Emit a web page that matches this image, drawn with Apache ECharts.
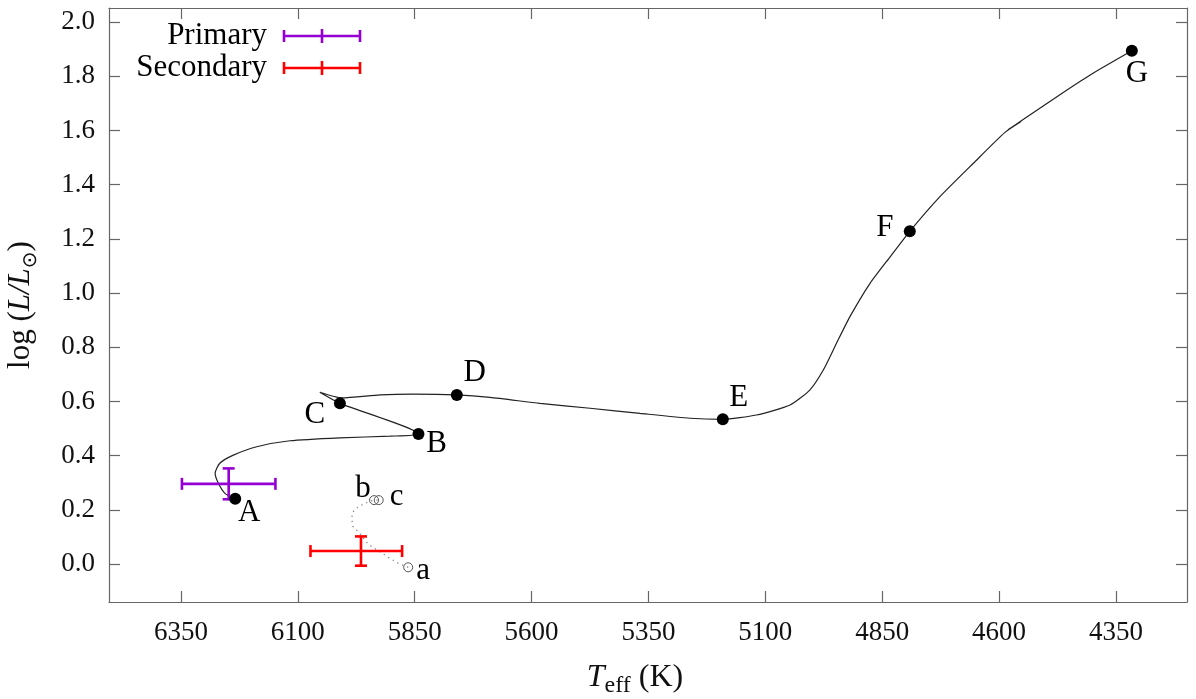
<!DOCTYPE html>
<html>
<head>
  <meta charset="utf-8">
  <title>HR diagram</title>
  <script src="https://cdn.jsdelivr.net/npm/echarts@6/dist/echarts.min.js"></script>
  <style>
    html, body { margin: 0; padding: 0; background: #fff; }
    #chart { width: 1196px; height: 699px; }
  </style>
</head>
<body>
<div id="chart"></div>
<script>
// solid track of the primary, A -> G
const trackT = [6234, 6256, 6270, 6277, 6267, 6238, 6188, 6117, 6010, 5903, 5842,
                6010, 6053, 6006, 5924, 5854, 5760, 5689, 5582, 5475, 5368, 5261, 5191,
                5119, 5047, 5005, 4976, 4948, 4919, 4876, 4833, 4791, 4727, 4655,
                4588, 4553, 4581, 4547, 4477, 4406, 4316];
const trackL = [0.241, 0.261, 0.298, 0.335, 0.372, 0.402, 0.433, 0.455, 0.466, 0.472, 0.480,
                0.593, 0.634, 0.613, 0.624, 0.627, 0.624, 0.615, 0.593, 0.575, 0.556, 0.538, 0.534,
                0.550, 0.587, 0.642, 0.716, 0.814, 0.913, 1.036, 1.134, 1.228, 1.355, 1.479,
                1.592, 1.633, 1.603, 1.642, 1.724, 1.804, 1.894];

// labelled points on the track
const starNames = ['A', 'B', 'C', 'D', 'E', 'F', 'G'];
const starT = [6234, 5842, 6010, 5760, 5191, 4791, 4316];
const starL = [0.241, 0.480, 0.593, 0.624, 0.534, 1.228, 1.894];

// dotted track of the secondary, a -> b/c
const secTrackT = [5864, 5885, 5903, 5917, 5942, 5954, 5967, 5982, 5985, 5982, 5971, 5960, 5946, 5937, 5927];
const secTrackL = [-0.012, 0.003, 0.021, 0.037, 0.064, 0.082, 0.113, 0.138, 0.169, 0.193, 0.211, 0.221, 0.232, 0.236, 0.236];
const secNames = ['a', 'b', 'c'];
const secT = [5864, 5937, 5927];
const secL = [-0.012, 0.236, 0.236];

// observed positions with error bars
const obsNames = ['Primary', 'Secondary'];
const obsT = [6248, 5965];
const obsL = [0.296, 0.048];
const obsTHot = [6348, 6073];
const obsTCool = [6148, 5877];
const obsLLo = [0.239, -0.006];
const obsLHi = [0.353, 0.102];

const xTicks = [6350, 6100, 5850, 5600, 5350, 5100, 4850, 4600, 4350];
const yTicks = [0.0, 0.2, 0.4, 0.6, 0.8, 1.0, 1.2, 1.4, 1.6, 1.8, 2.0];

// label offsets (px) for the letters
const starOffsets = [[14, 14], [18, 10], [-25, 11], [18, -22], [16, -21], [-25, -3], [5, 23]];
const secOffsets = [[15, 4], [-11, -11], [18, -3]];
const obsColors = ['#9400d3', '#ff0000'];

const SERIF = 'Liberation Serif';
const FRAME = '#666';

function zip(a, b) { return a.map((v, i) => [v, b[i]]); }

function labelled(names, xs, ys, offsets) {
  return names.map((n, i) => ({
    value: [xs[i], ys[i]],
    name: n,
    label: { offset: offsets[i] }
  }));
}

const xBase = {
  type: 'value', min: 4198, max: 6504, inverse: true,
  splitLine: { show: false },
  axisLine: { onZero: false, lineStyle: { color: FRAME, width: 1.2 } },
  axisTick: { inside: true, length: 11, customValues: xTicks, lineStyle: { color: FRAME, width: 1.2 } }
};
const yBase = {
  type: 'value', min: -0.14, max: 2.052,
  splitLine: { show: false },
  axisLine: { onZero: false, lineStyle: { color: FRAME, width: 1.2 } },
  axisTick: { inside: true, length: 11, customValues: yTicks, lineStyle: { color: FRAME, width: 1.2 } }
};

let myChart = echarts.init(document.getElementById('chart'));

let option = {
  animation: false,
  backgroundColor: '#fff',
  textStyle: { fontFamily: SERIF },
  grid: { left: 109, right: 9, top: 8, bottom: 97, containLabel: false, outerBoundsMode: 'none' },
  xAxis: [
    Object.assign({}, xBase, {
      position: 'bottom',
      axisLabel: {
        customValues: xTicks, margin: 17,
        fontFamily: SERIF, fontSize: 27, color: '#111',
        formatter: v => String(v)
      },
      name: '{t|T}{s|eff}{n| (K)}',
      nameLocation: 'middle', nameGap: 56,
      nameTextStyle: {
        padding: [0, 26, 0, 0],
        rich: {
          t: { fontFamily: SERIF, fontSize: 32, fontStyle: 'italic', color: '#111', lineHeight: 40, verticalAlign: 'middle' },
          s: { fontFamily: SERIF, fontSize: 24, color: '#111', lineHeight: 40, verticalAlign: 'bottom' },
          n: { fontFamily: SERIF, fontSize: 32, color: '#111', lineHeight: 40, verticalAlign: 'middle' }
        }
      }
    }),
    Object.assign({}, xBase, { position: 'top', axisLabel: { show: false } })
  ],
  yAxis: [
    Object.assign({}, yBase, {
      position: 'left',
      axisLabel: {
        customValues: yTicks, margin: 14,
        fontFamily: SERIF, fontSize: 27, color: '#111',
        formatter: v => v.toFixed(1)
      },
      name: '{n|log (}{i|L/L}{s|⊙}{n|)}',
      nameLocation: 'middle', nameGap: 68, nameRotate: 90,
      nameTextStyle: {
        rich: {
          i: { fontFamily: SERIF, fontSize: 31, fontStyle: 'italic', color: '#111', lineHeight: 40, verticalAlign: 'middle' },
          s: { fontFamily: 'DejaVu Sans', fontSize: 20, color: '#111', lineHeight: 40, verticalAlign: 'bottom' },
          n: { fontFamily: SERIF, fontSize: 31, color: '#111', lineHeight: 40, verticalAlign: 'middle' }
        }
      }
    }),
    Object.assign({}, yBase, { position: 'right', axisLabel: { show: false } })
  ],
  series: [
    {
      type: 'line',
      data: zip(trackT, trackL),
      showSymbol: false,
      smooth: 0.2,
      lineStyle: { color: '#222', width: 1.2 },
      z: 2
    },
    {
      type: 'line',
      data: zip(secTrackT, secTrackL),
      showSymbol: false,
      lineStyle: { color: '#888', width: 1.3, type: [1.3, 4] },
      z: 2
    },
    {
      type: 'custom',
      data: obsT.map((t, i) => [t, obsL[i], obsTHot[i], obsTCool[i], obsLLo[i], obsLHi[i], i]),
      renderItem: function (params, api) {
        const c = api.coord([api.value(0), api.value(1)]);
        const hot = api.coord([api.value(2), api.value(1)]);
        const cool = api.coord([api.value(3), api.value(1)]);
        const lo = api.coord([api.value(0), api.value(4)]);
        const hi = api.coord([api.value(0), api.value(5)]);
        const col = obsColors[api.value(6)];
        const cap = 6;
        const st = { stroke: col, lineWidth: 2.6 };
        return {
          type: 'group',
          children: [
            { type: 'line', shape: { x1: hot[0], y1: c[1], x2: cool[0], y2: c[1] }, style: st },
            { type: 'line', shape: { x1: hot[0], y1: c[1] - cap, x2: hot[0], y2: c[1] + cap }, style: st },
            { type: 'line', shape: { x1: cool[0], y1: c[1] - cap, x2: cool[0], y2: c[1] + cap }, style: st },
            { type: 'line', shape: { x1: c[0], y1: lo[1], x2: c[0], y2: hi[1] }, style: st },
            { type: 'line', shape: { x1: c[0] - cap, y1: lo[1], x2: c[0] + cap, y2: lo[1] }, style: st },
            { type: 'line', shape: { x1: c[0] - cap, y1: hi[1], x2: c[0] + cap, y2: hi[1] }, style: st }
          ]
        };
      },
      z: 3
    },
    {
      type: 'scatter',
      data: labelled(starNames, starT, starL, starOffsets),
      symbol: 'circle',
      symbolSize: 12,
      itemStyle: { color: '#000', opacity: 1 },
      label: {
        show: true, position: 'inside', formatter: '{b}',
        fontFamily: SERIF, fontSize: 31, color: '#000',
        align: 'center', verticalAlign: 'middle'
      },
      z: 4
    },
    {
      type: 'scatter',
      data: labelled(secNames, secT, secL, secOffsets),
      symbol: 'circle',
      symbolSize: 9,
      itemStyle: { color: 'rgba(255,255,255,0)', borderColor: '#555', borderWidth: 1, opacity: 1 },
      label: {
        show: true, position: 'inside', formatter: '{b}',
        fontFamily: SERIF, fontSize: 31, color: '#000',
        align: 'center', verticalAlign: 'middle'
      },
      z: 4
    }
  ],
  graphic: obsNames.map((n, i) => {
    const y = 36 + i * 32;
    const st = { stroke: obsColors[i], lineWidth: 2.6 };
    return {
      type: 'group',
      children: [
        { type: 'text', x: 267, y: y, style: { text: n, fontFamily: SERIF, fontSize: 31, fill: '#000', align: 'right', verticalAlign: 'middle' } },
        { type: 'line', shape: { x1: 284, y1: y, x2: 360, y2: y }, style: st },
        { type: 'line', shape: { x1: 284, y1: y - 6, x2: 284, y2: y + 6 }, style: st },
        { type: 'line', shape: { x1: 360, y1: y - 6, x2: 360, y2: y + 6 }, style: st },
        { type: 'line', shape: { x1: 322, y1: y - 7, x2: 322, y2: y + 7 }, style: st }
      ]
    };
  })
};

myChart.setOption(option);
</script>
</body>
</html>
